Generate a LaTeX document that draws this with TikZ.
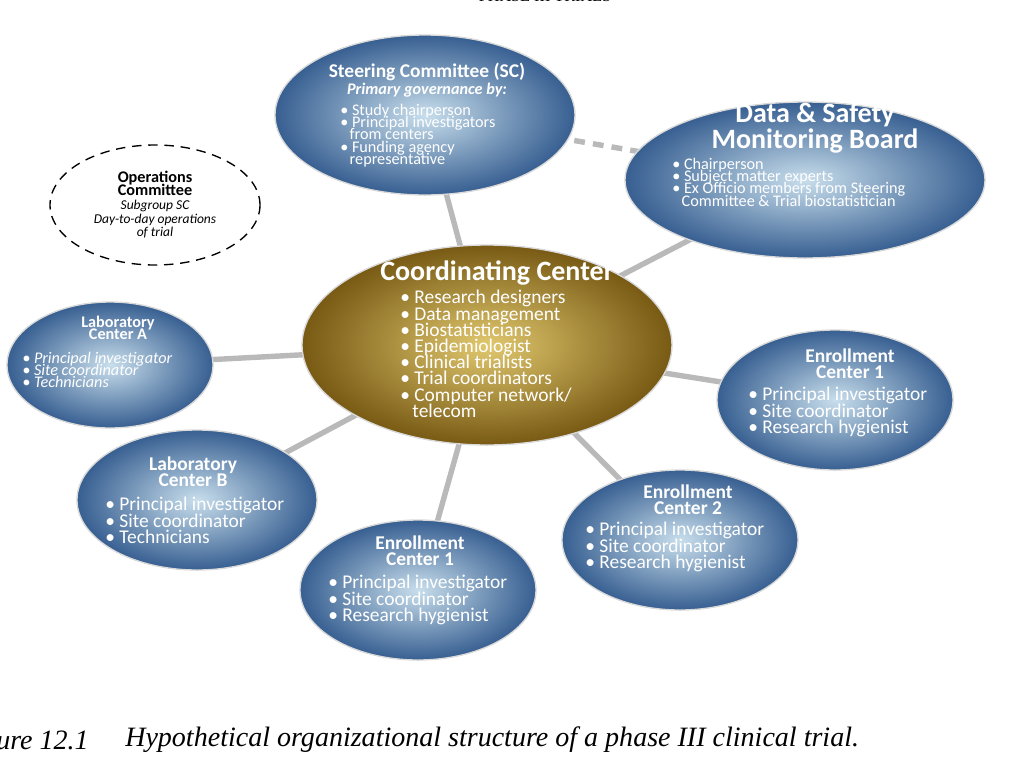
\documentclass[tikz,border=0pt]{standalone}
\usepackage{fontspec}
\setmainfont{Liberation Serif}
\newfontfamily\carl{Carlito}
\definecolor{bin}{RGB}{200,222,236}
\definecolor{bout}{RGB}{55,95,145}
\definecolor{gin}{RGB}{225,200,110}
\definecolor{gout}{RGB}{120,90,20}
\begin{document}
\begin{tikzpicture}[x=0.026cm,y=-0.026cm,
 bl/.style={draw=white!70!gray,line width=1pt,inner color=bin,outer color=bout},
 gd/.style={draw=white!70!gray,line width=1pt,inner color=gin,outer color=gout},
 con/.style={draw=gray!55,line width=4pt},
 tx/.style={font=\carl,text=white,align=center},
 tl/.style={font=\carl,text=white,align=left}]
\useasboundingbox (0,0) rectangle (1024,768);
\node (t) at (545,-4) {\large\uppercase{Phase III Trials}};
% connectors
\coordinate (cc) at (487,345);
\draw[con] (cc) -- (425,115);
\draw[con] (cc) -- (805,180);
\draw[con] (cc) -- (110,365);
\draw[con] (cc) -- (835,400);
\draw[con] (cc) -- (197,500);
\draw[con] (cc) -- (680,540);
\draw[con] (cc) -- (418,590);
\draw[con,dash pattern=on 8pt off 6pt] (425,115) -- (805,180);
% ellipses
\fill[bl] (425,115) ellipse (150 and 80);
\fill[bl] (805,180) ellipse (180 and 78);
\fill[bl] (110,365) ellipse (103 and 63);
\fill[bl] (835,400) ellipse (118 and 70);
\fill[bl] (197,500) ellipse (120 and 70);
\fill[bl] (680,540) ellipse (118 and 70);
\fill[bl] (418,590) ellipse (118 and 70);
\fill[gd] (487,345) ellipse (185 and 100);
\draw[line width=1pt,dash pattern=on 7pt off 5pt] (155,205) ellipse (105 and 60);
% texts
\node[tx,font=\carl\bfseries\Large] (sc) at (427,80) {Steering Committee (SC)\\[-5pt]\itshape\large Primary governance by:};
\node[tl,anchor=north west,font=\carl\large,inner sep=0pt] (scl) at (340,104) {\textbullet{} Study chairperson\\[-5pt]\textbullet{} Principal investigators\\[-5pt]\hspace*{7pt}from centers\\[-5pt]\textbullet{} Funding agency\\[-5pt]\hspace*{7pt}representative};
\node[tx,font=\carl\bfseries\huge] (ds) at (815,128) {Data \& Safety\\[-6pt]Monitoring Board};
\node[tl,anchor=north west,font=\carl\large,inner sep=0pt] (dsl) at (672,158) {\textbullet{} Chairperson\\[-5pt]\textbullet{} Subject matter experts\\[-5pt]\textbullet{} Ex Officio members from Steering\\[-5pt]\hspace*{7pt}Committee \& Trial biostatistician};
\node[align=center,font=\carl\large] (op) at (155,205) {\bfseries Operations\\[-5pt]\bfseries Committee\\[-3pt]\normalsize\itshape Subgroup SC\\[-4pt]\normalsize\itshape Day-to-day operations\\[-4pt]\normalsize\itshape of trial};
\node[tx,font=\carl\bfseries\huge] (cct) at (497,273) {Coordinating Center};
\node[tl,anchor=north west,font=\carl\Large,inner sep=0pt] (ccl) at (400,290) {\textbullet{} Research designers\\[-6pt]\textbullet{} Data management\\[-6pt]\textbullet{} Biostatisticians\\[-6pt]\textbullet{} Epidemiologist\\[-6pt]\textbullet{} Clinical trialists\\[-6pt]\textbullet{} Trial coordinators\\[-6pt]\textbullet{} Computer network/\\[-6pt]\hspace*{9pt}telecom};
\node[tx,font=\carl\bfseries\large] (la) at (118,328) {Laboratory\\[-5pt]Center A};
\node[tl,anchor=north west,font=\carl\large\itshape,inner sep=0pt] (lal) at (22,352) {\textbullet{} Principal investigator\\[-5pt]\textbullet{} Site coordinator\\[-5pt]\textbullet{} Technicians};
\node[tx,font=\carl\bfseries\Large] (e1) at (850,364) {Enrollment\\[-6pt]Center 1};
\node[tl,anchor=north west,font=\carl\Large,inner sep=0pt] (e1l) at (748,387) {\textbullet{} Principal investigator\\[-6pt]\textbullet{} Site coordinator\\[-6pt]\textbullet{} Research hygienist};
\node[tx,font=\carl\bfseries\Large] (lb) at (193,472) {Laboratory\\[-6pt]Center B};
\node[tl,anchor=north west,font=\carl\Large,inner sep=0pt] (lbl) at (105,497) {\textbullet{} Principal investigator\\[-6pt]\textbullet{} Site coordinator\\[-6pt]\textbullet{} Technicians};
\node[tx,font=\carl\bfseries\Large] (e2) at (688,500) {Enrollment\\[-6pt]Center 2};
\node[tl,anchor=north west,font=\carl\Large,inner sep=0pt] (e2l) at (585,522) {\textbullet{} Principal investigator\\[-6pt]\textbullet{} Site coordinator\\[-6pt]\textbullet{} Research hygienist};
\node[tx,font=\carl\bfseries\Large] (e3) at (420,551) {Enrollment\\[-6pt]Center 1};
\node[tl,anchor=north west,font=\carl\Large,inner sep=0pt] (e3l) at (328,575) {\textbullet{} Principal investigator\\[-6pt]\textbullet{} Site coordinator\\[-6pt]\textbullet{} Research hygienist};
\node[anchor=west,font=\huge\itshape,inner sep=0pt] (c1) at (-4,740) {ure 12.1};
\node[anchor=west,font=\huge\itshape,inner sep=0pt] (c2) at (125,740) {Hypothetical organizational structure of a phase III clinical trial.};
\end{tikzpicture}
\end{document}
